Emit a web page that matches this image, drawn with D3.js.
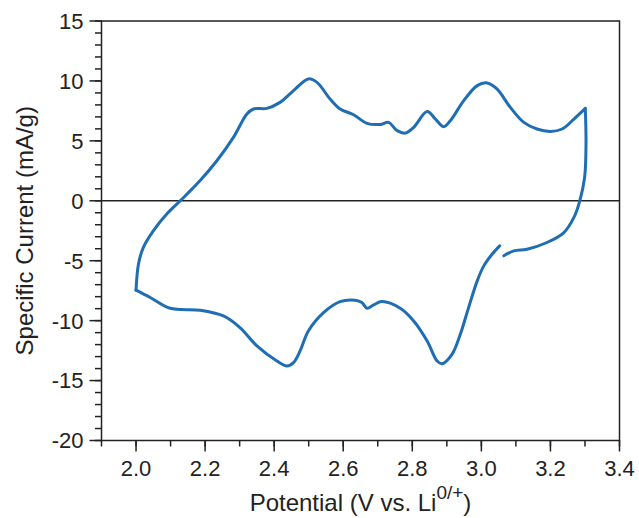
<!DOCTYPE html>
<html>
<head>
<meta charset="utf-8">
<script src="https://cdn.jsdelivr.net/npm/d3@7"></script>
<style>
  html, body { margin: 0; padding: 0; background: #fff; }
  svg { display: block; font-family: "Liberation Sans", Arial, sans-serif; }
  .tick-label { font-size: 22px; fill: #222; }
  .axis-title { font-size: 24px; fill: #222; }
</style>
</head>
<body>
<div id="chart"></div>
<script>
// CV trace: starts just right of the gap near 3.06 V,
// climbs to the 3.3 V vertex, runs back along the top branch to 2.0 V,
// then out along the bottom branch and stops at the gap.
const potential = [
  3.065, 3.094, 3.132, 3.19, 3.239, 3.268, 3.285, 3.299, 3.303, 3.301,
  3.268, 3.234, 3.2, 3.161, 3.123, 3.084, 3.045, 3.017, 2.988, 2.949,
  2.91, 2.891, 2.867, 2.843, 2.804, 2.78, 2.756, 2.731, 2.707, 2.669,
  2.63, 2.591, 2.562, 2.524, 2.499, 2.456, 2.417, 2.379, 2.34, 2.321,
  2.282, 2.234, 2.185, 2.128, 2.089, 2.05, 2.021, 2.007, 2.0,
  2.041, 2.099, 2.186, 2.253, 2.301, 2.35, 2.408, 2.437, 2.456, 2.475,
  2.499, 2.543, 2.591, 2.635, 2.654, 2.669, 2.688, 2.712, 2.765, 2.804,
  2.843, 2.872, 2.886, 2.915, 2.939, 2.963, 2.988, 3.007, 3.031, 3.053
];
const current = [
  -4.59, -4.18, -4.04, -3.48, -2.65, -1.39, 0, 1.95, 4.74, 7.71,
  6.82, 5.99, 5.79, 5.99, 6.54, 7.79, 9.33, 9.83, 9.61, 8.35,
  6.68, 6.18, 6.82, 7.44, 6.13, 5.65, 5.85, 6.54, 6.37, 6.46,
  7.18, 7.66, 8.49, 9.88, 10.17, 9.19, 8.21, 7.71, 7.66, 7.24,
  5.29, 3.34, 1.67, 0, -1.11, -2.51, -3.9, -5.29, -7.46,
  -8.07, -8.97, -9.13, -9.61, -10.58, -12.11, -13.37, -13.78, -13.5, -12.53,
  -10.86, -9.33, -8.41, -8.30, -8.49, -8.97, -8.69, -8.41, -8.97, -10.03,
  -11.70, -13.37, -13.59, -12.81, -11.14, -8.91, -6.68, -5.43, -4.46, -3.76
];
// indices of the two switching points (3.3 V and 2.0 V), kept as sharp corners
const vertices = [9, 48];

const xTicks = [2.0, 2.2, 2.4, 2.6, 2.8, 3.0, 3.2, 3.4];
const yTicks = [15, 10, 5, 0, -5, -10, -15, -20];

const width = 639, height = 518;
const m = { left: 101.5, right: 619.5, top: 21, bottom: 440.5 };
const ink = "#222";

const x = d3.scaleLinear().domain([1.9, 3.4]).range([m.left, m.right]);
const y = d3.scaleLinear().domain([-20, 15]).range([m.bottom, m.top]);

const svg = d3.select("#chart").append("svg")
  .attr("width", width).attr("height", height);

// minor ticks every 0.1 V / 1 mA/g
const xMinor = d3.range(19, 35).map(d => d / 10);
const yMinor = d3.range(-20, 16);

const g = svg.append("g");

g.selectAll(".xminor").data(xMinor).join("line")
  .attr("x1", d => x(d)).attr("x2", d => x(d))
  .attr("y1", m.bottom).attr("y2", m.bottom + 6)
  .attr("stroke", ink).attr("stroke-width", 1.5);
g.selectAll(".xmajor").data(xTicks).join("line")
  .attr("x1", d => x(d)).attr("x2", d => x(d))
  .attr("y1", m.bottom).attr("y2", m.bottom + 11)
  .attr("stroke", ink).attr("stroke-width", 1.5);
g.selectAll(".yminor").data(yMinor).join("line")
  .attr("x1", m.left - 6.5).attr("x2", m.left)
  .attr("y1", d => y(d)).attr("y2", d => y(d))
  .attr("stroke", ink).attr("stroke-width", 1.5);
g.selectAll(".ymajor").data(yTicks).join("line")
  .attr("x1", m.left - 12).attr("x2", m.left)
  .attr("y1", d => y(d)).attr("y2", d => y(d))
  .attr("stroke", ink).attr("stroke-width", 1.5);

g.selectAll(".xlab").data(xTicks).join("text")
  .attr("class", "tick-label")
  .attr("x", d => x(d)).attr("y", 476)
  .attr("text-anchor", "middle")
  .text(d3.format(".1f"));
g.selectAll(".ylab").data(yTicks).join("text")
  .attr("class", "tick-label")
  .attr("x", m.left - 18).attr("y", d => y(d))
  .attr("dy", "0.36em")
  .attr("text-anchor", "end")
  .text(d => d);

// zero line
g.append("line")
  .attr("x1", m.left).attr("x2", m.right)
  .attr("y1", y(0)).attr("y2", y(0))
  .attr("stroke", ink).attr("stroke-width", 1.5);

const line = d3.line()
  .x(i => x(potential[i]))
  .y(i => y(current[i]))
  .curve(d3.curveCatmullRom.alpha(0.5));

const cuts = [0, ...vertices, potential.length - 1];
const segments = d3.pairs(cuts).map(([a, b]) => d3.range(a, b + 1));

g.selectAll(".trace").data(segments).join("path")
  .attr("d", line)
  .attr("fill", "none")
  .attr("stroke", "#1f6db2")
  .attr("stroke-width", 3)
  .attr("stroke-linejoin", "round")
  .attr("stroke-linecap", "round");

// frame
g.append("rect")
  .attr("x", m.left).attr("y", m.top)
  .attr("width", m.right - m.left).attr("height", m.bottom - m.top)
  .attr("fill", "none").attr("stroke", ink).attr("stroke-width", 1.5);

// titles
const xt = svg.append("text").attr("class", "axis-title")
  .attr("x", (m.left + m.right) / 2).attr("y", 511)
  .attr("font-size", 25)
  .attr("text-anchor", "middle");
xt.append("tspan").text("Potential (V vs. Li");
xt.append("tspan").attr("dy", -12).attr("font-size", 19).text("0/+");
xt.append("tspan").attr("dy", 12).text(")");

svg.append("text").attr("class", "axis-title")
  .attr("transform", `translate(33, ${(m.top + m.bottom) / 2}) rotate(-90)`)
  .attr("text-anchor", "middle")
  .text("Specific Current (mA/g)");
</script>
</body>
</html>
